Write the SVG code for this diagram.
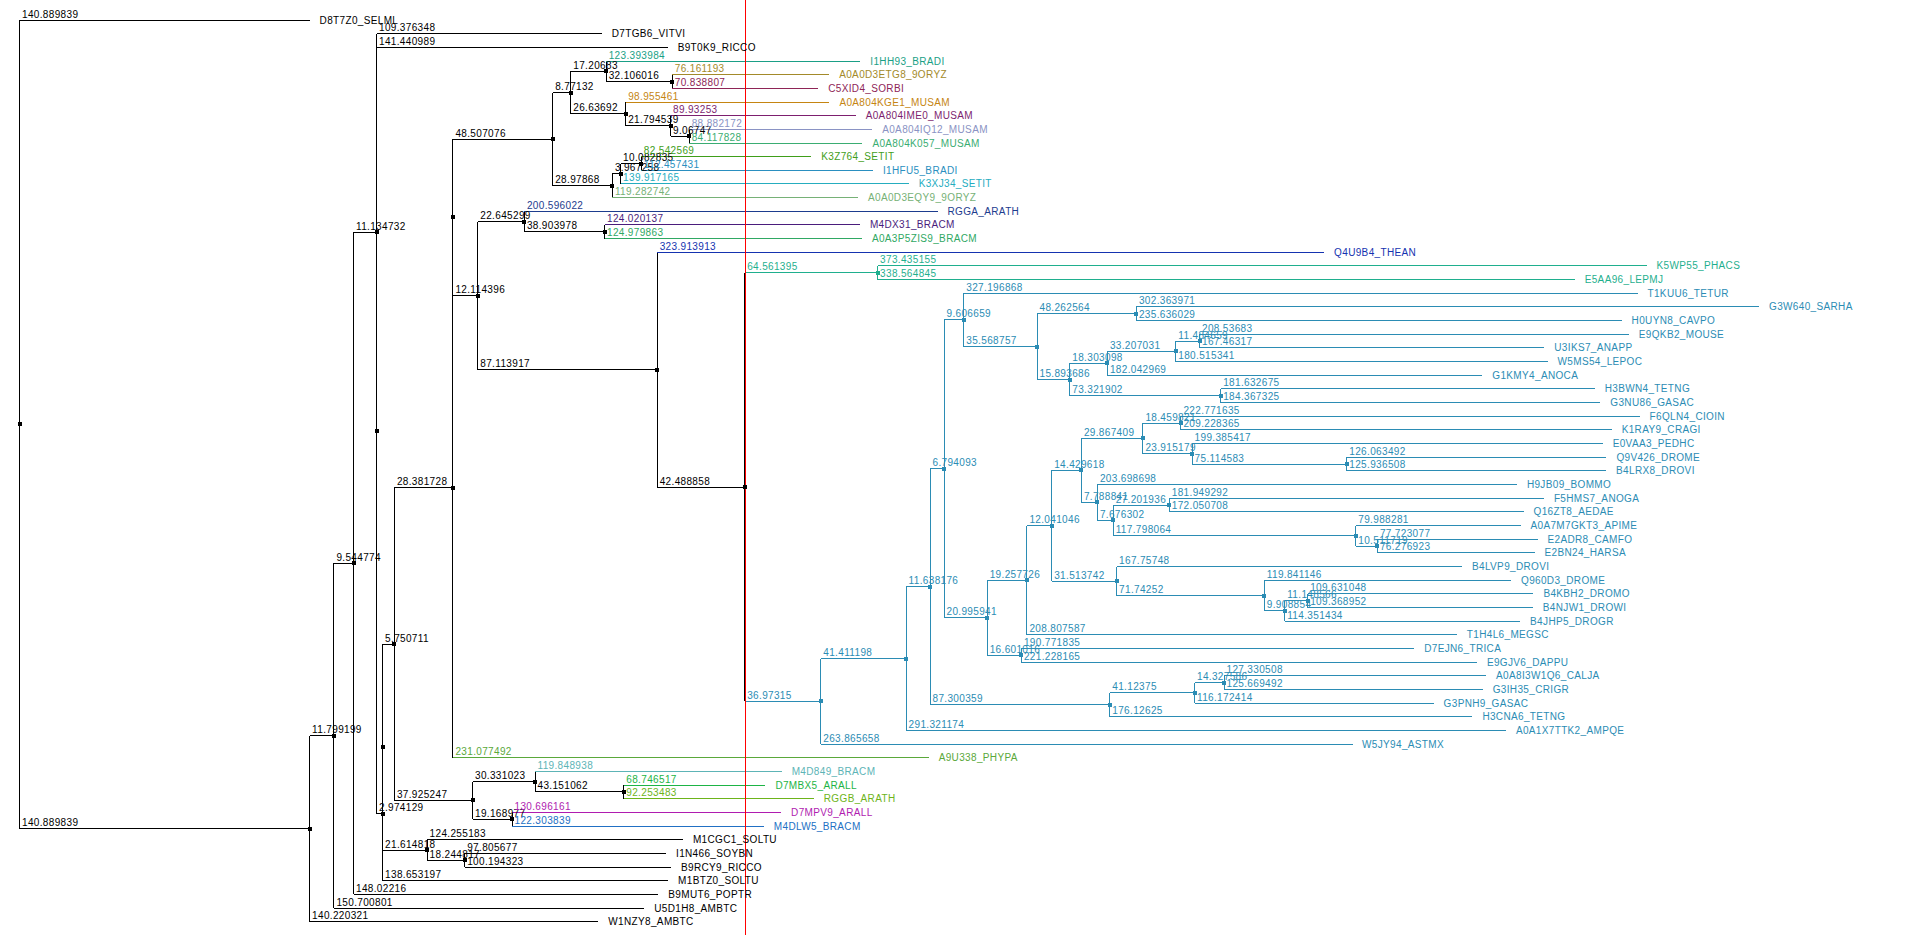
<svg xmlns="http://www.w3.org/2000/svg" width="1916" height="935" viewBox="0 0 1916 935">
<style>
path{fill:none !important;stroke-width:1;shape-rendering:crispEdges}
text{font-family:"Liberation Sans",Arial,sans-serif;font-size:10px;letter-spacing:0.35px;stroke:none !important}
rect{stroke:none !important;shape-rendering:crispEdges}
.k{stroke:#000;fill:#000}
.bradi{stroke:#1a9f86;fill:#1a9f86}
.etg8{stroke:#a38a2a;fill:#a38a2a}
.sorbi{stroke:#8e2456;fill:#8e2456}
.kge1{stroke:#c58512;fill:#c58512}
.ime0{stroke:#7d1f6f;fill:#7d1f6f}
.iq12{stroke:#8a93c4;fill:#8a93c4}
.k057{stroke:#3aad72;fill:#3aad72}
.k3z{stroke:#3f9e1a;fill:#3f9e1a}
.hfu5{stroke:#2a8fc0;fill:#2a8fc0}
.xj34{stroke:#25adbf;fill:#25adbf}
.eqy9{stroke:#76b176;fill:#76b176}
.rgga{stroke:#1d3c8e;fill:#1d3c8e}
.dx31{stroke:#4a1d7c;fill:#4a1d7c}
.zis9{stroke:#2fa863;fill:#2fa863}
.thean{stroke:#1533b0;fill:#1533b0}
.fung{stroke:#1faf8e;fill:#1faf8e}
.anim{stroke:#2b8cb4;fill:#2b8cb4}
.phypa{stroke:#5aa83a;fill:#5aa83a}
.d849{stroke:#5db4b6;fill:#5db4b6}
.mbx5{stroke:#1db445;fill:#1db445}
.rggb{stroke:#6db41a;fill:#6db41a}
.mpv9{stroke:#b01cb0;fill:#b01cb0}
.dlw5{stroke:#2170c4;fill:#2170c4}
</style>
<rect x="0" y="0" width="1916" height="935" fill="#fff"/>
<g id="connectors">
<path class="k" d="M19.5 20V828.7"/>
<path class="k" d="M19.5 20H309.6"/>
<path class="k" d="M19.5 828.7H309.6M309.6 735.6V921.7"/>
<path class="k" d="M309.6 921.7H598.3"/>
<path class="k" d="M309.6 735.6H333.9M333.9 563.2V908"/>
<path class="k" d="M333.9 908H644.2"/>
<path class="k" d="M333.9 563.2H353.5M353.5 232.1V894.4"/>
<path class="k" d="M353.5 894.4H658.3"/>
<path class="k" d="M353.5 232.1H376.5M376.5 33.7V430.6"/>
<path class="k" d="M376.5 33.7H601.7"/>
<path class="k" d="M376.5 47.3V813.8"/>
<path class="k" d="M376.5 47.3H667.7"/>
<path class="k" d="M376.5 813.8H382.6M382.6 747V880.7"/>
<path class="k" d="M382.6 880.7H668.1"/>
<path class="k" d="M382.6 644V850"/>
<path class="k" d="M382.6 644H394.4M394.4 487.6V800.4"/>
<path class="k" d="M382.6 850H427.1M427.1 839.7V860.2"/>
<path class="k" d="M427.1 839.7H682.9"/>
<path class="k" d="M427.1 860.2H464.7M464.7 853.4V867"/>
<path class="k" d="M464.7 853.4H666"/>
<path class="k" d="M464.7 867H671"/>
<path class="k" d="M394.4 800.4H472.5M472.5 781.7V819.2"/>
<path class="k" d="M472.5 781.7H535M535 771.4V791.9"/>
<path class="d849" d="M535 771.4H781.7"/>
<path class="k" d="M535 791.9H623.8M623.8 785.1V798.7"/>
<path class="mbx5" d="M623.8 785.1H765.4"/>
<path class="rggb" d="M623.8 798.7H813.8"/>
<path class="k" d="M472.5 819.2H512M512 812.4V826.1"/>
<path class="mpv9" d="M512 812.4H781.1"/>
<path class="dlw5" d="M512 826.1H763.8"/>
<path class="k" d="M394.4 487.6H452.9M452.9 217.4V757.7"/>
<path class="phypa" d="M452.9 757.7H928.7"/>
<path class="k" d="M452.9 139.1V295.6"/>
<path class="k" d="M452.9 139.1H552.7M552.7 92.6V185.7"/>
<path class="k" d="M552.7 92.6H570.8M570.8 71.2V113.9"/>
<path class="k" d="M570.8 71.2H606.2M606.2 61V81.5"/>
<path class="bradi" d="M606.2 61H860.3"/>
<path class="k" d="M606.2 81.5H672.3M672.3 74.7V88.3"/>
<path class="etg8" d="M672.3 74.7H829.2"/>
<path class="sorbi" d="M672.3 88.3H818.2"/>
<path class="k" d="M570.8 113.9H625.7M625.7 102V125.9"/>
<path class="kge1" d="M625.7 102H829.4"/>
<path class="k" d="M625.7 125.9H670.5M670.5 115.6V136.1"/>
<path class="ime0" d="M670.5 115.6H855.7"/>
<path class="k" d="M670.5 136.1H689.2M689.2 129.3V143"/>
<path class="iq12" d="M689.2 129.3H872.2"/>
<path class="k057" d="M689.2 143H862.4"/>
<path class="k" d="M552.7 185.7H612.4M612.4 173.7V197.6"/>
<path class="k" d="M612.4 173.7H620.6M620.6 163.5V183.9"/>
<path class="k" d="M620.6 163.5H641.3M641.3 156.6V170.3"/>
<path class="k3z" d="M641.3 156.6H811.3"/>
<path class="hfu5" d="M641.3 170.3H872.9"/>
<path class="xj34" d="M620.6 183.9H908.7"/>
<path class="eqy9" d="M612.4 197.6H858"/>
<path class="k" d="M452.9 295.6H477.8M477.8 221.5V369.7"/>
<path class="k" d="M477.8 221.5H524.4M524.4 211.3V231.8"/>
<path class="rgga" d="M524.4 211.3H937.5"/>
<path class="k" d="M524.4 231.8H604.5M604.5 224.9V238.6"/>
<path class="dx31" d="M604.5 224.9H859.9"/>
<path class="zis9" d="M604.5 238.6H861.9"/>
<path class="k" d="M477.8 369.7H657.2M657.2 252.3V487.1"/>
<path class="thean" d="M657.2 252.3H1324.1"/>
<path class="k" d="M657.2 487.1H744.7M744.7 272.8V701.4"/>
<path class="fung" d="M744.7 272.8H877.6M877.6 265.9V279.6"/>
<path class="fung" d="M877.6 265.9H1646.5"/>
<path class="fung" d="M877.6 279.6H1574.7"/>
<path class="anim" d="M744.7 701.4H820.8M820.8 658.6V744.1"/>
<path class="anim" d="M820.8 744.1H1352.5"/>
<path class="anim" d="M820.8 658.6H906.1M906.1 586.8V730.4"/>
<path class="anim" d="M906.1 730.4H1505.9"/>
<path class="anim" d="M906.1 586.8H930M930 468.9V704.8"/>
<path class="anim" d="M930 468.9H944M944 319.9V617.8"/>
<path class="anim" d="M944 319.9H963.8M963.8 293.2V346.6"/>
<path class="anim" d="M963.8 293.2H1637.5"/>
<path class="anim" d="M963.8 346.6H1037M1037 313.7V379.5"/>
<path class="anim" d="M1037 313.7H1136.4M1136.4 306.9V320.6"/>
<path class="anim" d="M1136.4 306.9H1759"/>
<path class="anim" d="M1136.4 320.6H1621.6"/>
<path class="anim" d="M1037 379.5H1069.8M1069.8 363.3V395.7"/>
<path class="anim" d="M1069.8 363.3H1107.4M1107.4 351.3V375.2"/>
<path class="anim" d="M1107.4 351.3H1175.8M1175.8 341.1V361.6"/>
<path class="anim" d="M1175.8 341.1H1199.5M1199.5 334.2V347.9"/>
<path class="anim" d="M1199.5 334.2H1628.8"/>
<path class="anim" d="M1199.5 347.9H1544.3"/>
<path class="anim" d="M1175.8 361.6H1547.5"/>
<path class="anim" d="M1107.4 375.2H1482.3"/>
<path class="anim" d="M1069.8 395.7H1220.7M1220.7 388.9V402.5"/>
<path class="anim" d="M1220.7 388.9H1594.7"/>
<path class="anim" d="M1220.7 402.5H1600.3"/>
<path class="anim" d="M944 617.8H987.2M987.2 580.3V655.3"/>
<path class="anim" d="M987.2 580.3H1026.9M1026.9 525.7V634.8"/>
<path class="anim" d="M1026.9 525.7H1051.7M1051.7 470.4V581"/>
<path class="anim" d="M1051.7 470.4H1081.4M1081.4 438.4V502.4"/>
<path class="anim" d="M1081.4 438.4H1142.9M1142.9 423V453.8"/>
<path class="anim" d="M1142.9 423H1180.9M1180.9 416.2V429.9"/>
<path class="anim" d="M1180.9 416.2H1639.6"/>
<path class="anim" d="M1180.9 429.9H1611.7"/>
<path class="anim" d="M1142.9 453.8H1192.1M1192.1 443.5V464"/>
<path class="anim" d="M1192.1 443.5H1602.7"/>
<path class="anim" d="M1192.1 464H1346.8M1346.8 457.2V470.8"/>
<path class="anim" d="M1346.8 457.2H1606.4"/>
<path class="anim" d="M1346.8 470.8H1606.1"/>
<path class="anim" d="M1081.4 502.4H1097.4M1097.4 484.5V520.4"/>
<path class="anim" d="M1097.4 484.5H1516.9"/>
<path class="anim" d="M1097.4 520.4H1113.2M1113.2 505V535.7"/>
<path class="anim" d="M1113.2 505H1169.3M1169.3 498.2V511.8"/>
<path class="anim" d="M1169.3 498.2H1543.9"/>
<path class="anim" d="M1169.3 511.8H1523.5"/>
<path class="anim" d="M1113.2 535.7H1355.8M1355.8 525.5V546"/>
<path class="anim" d="M1355.8 525.5H1520.5"/>
<path class="anim" d="M1355.8 546H1377.4M1377.4 539.2V552.8"/>
<path class="anim" d="M1377.4 539.2H1537.5"/>
<path class="anim" d="M1377.4 552.8H1534.5"/>
<path class="anim" d="M1051.7 581H1116.6M1116.6 566.5V595.5"/>
<path class="anim" d="M1116.6 566.5H1462"/>
<path class="anim" d="M1116.6 595.5H1264.3M1264.3 580.1V610.9"/>
<path class="anim" d="M1264.3 580.1H1511"/>
<path class="anim" d="M1264.3 610.9H1284.7M1284.7 600.6V621.1"/>
<path class="anim" d="M1284.7 600.6H1307.7M1307.7 593.8V607.5"/>
<path class="anim" d="M1307.7 593.8H1533.4"/>
<path class="anim" d="M1307.7 607.5H1532.8"/>
<path class="anim" d="M1284.7 621.1H1520.1"/>
<path class="anim" d="M1026.9 634.8H1456.8"/>
<path class="anim" d="M987.2 655.3H1021.4M1021.4 648.5V662.1"/>
<path class="anim" d="M1021.4 648.5H1414.2"/>
<path class="anim" d="M1021.4 662.1H1476.9"/>
<path class="anim" d="M930 704.8H1109.8M1109.8 692.9V716.8"/>
<path class="anim" d="M1109.8 692.9H1194.5M1194.5 682.6V703.1"/>
<path class="anim" d="M1194.5 682.6H1224M1224 675.8V689.4"/>
<path class="anim" d="M1224 675.8H1486.1"/>
<path class="anim" d="M1224 689.4H1482.7"/>
<path class="anim" d="M1194.5 703.1H1433.6"/>
<path class="anim" d="M1109.8 716.8H1472.4"/>
</g>
<line id="marker-line" x1="745.5" y1="0" x2="745.5" y2="935" stroke="#ff0000" stroke-width="1" shape-rendering="crispEdges"/>
<g id="root"><rect class="k" x="17.5" y="422.3" width="4" height="4"/></g>
<g id="D8T7Z0_SELML"><text class="k" x="22" y="17.5">140.889839</text><text class="k" x="319.6" y="23.5">D8T7Z0_SELML</text></g>
<g id="N1"><rect class="k" x="307.6" y="826.7" width="4" height="4"/><text class="k" x="22" y="826.2">140.889839</text></g>
<g id="W1NZY8_AMBTC"><text class="k" x="312.1" y="919.2">140.220321</text><text class="k" x="608.3" y="925.2">W1NZY8_AMBTC</text></g>
<g id="N2"><rect class="k" x="331.9" y="733.6" width="4" height="4"/><text class="k" x="312.1" y="733.1">11.799199</text></g>
<g id="U5D1H8_AMBTC"><text class="k" x="336.4" y="905.5">150.700801</text><text class="k" x="654.2" y="911.5">U5D1H8_AMBTC</text></g>
<g id="N3"><rect class="k" x="351.5" y="561.2" width="4" height="4"/><text class="k" x="336.4" y="560.7">9.544774</text></g>
<g id="B9MUT6_POPTR"><text class="k" x="356" y="891.9">148.02216</text><text class="k" x="668.3" y="897.9">B9MUT6_POPTR</text></g>
<g id="N4"><rect class="k" x="374.5" y="230.1" width="4" height="4"/><text class="k" x="356" y="229.6">11.134732</text></g>
<g id="D7TGB6_VITVI"><text class="k" x="379" y="31.2">109.376348</text><text class="k" x="611.7" y="37.2">D7TGB6_VITVI</text></g>
<g id="M"><rect class="k" x="374.5" y="428.6" width="4" height="4"/></g>
<g id="B9T0K9_RICCO"><text class="k" x="379" y="44.8">141.440989</text><text class="k" x="677.7" y="50.8">B9T0K9_RICCO</text></g>
<g id="P"><rect class="k" x="380.6" y="811.8" width="4" height="4"/><text class="k" x="379" y="811.3">2.974129</text></g>
<g id="M1BTZ0_SOLTU"><text class="k" x="385.1" y="878.2">138.653197</text><text class="k" x="678.1" y="884.2">M1BTZ0_SOLTU</text></g>
<g id="Q"><rect class="k" x="380.6" y="745" width="4" height="4"/></g>
<g id="T"><rect class="k" x="392.4" y="642" width="4" height="4"/><text class="k" x="385.1" y="641.5">5.750711</text></g>
<g id="S"><rect class="k" x="425.1" y="848" width="4" height="4"/><text class="k" x="385.1" y="847.5">21.614818</text></g>
<g id="M1CGC1_SOLTU"><text class="k" x="429.6" y="837.2">124.255183</text><text class="k" x="692.9" y="843.2">M1CGC1_SOLTU</text></g>
<g id="AA"><rect class="k" x="462.7" y="858.2" width="4" height="4"/><text class="k" x="429.6" y="857.7">18.244817</text></g>
<g id="I1N466_SOYBN"><text class="k" x="467.2" y="850.9">97.805677</text><text class="k" x="676" y="856.9">I1N466_SOYBN</text></g>
<g id="B9RCY9_RICCO"><text class="k" x="467.2" y="864.5">100.194323</text><text class="k" x="681" y="870.5">B9RCY9_RICCO</text></g>
<g id="W"><rect class="k" x="470.5" y="798.4" width="4" height="4"/><text class="k" x="396.9" y="797.9">37.925247</text></g>
<g id="X"><rect class="k" x="533" y="779.7" width="4" height="4"/><text class="k" x="475" y="779.2">30.331023</text></g>
<g id="M4D849_BRACM"><text class="d849" x="537.5" y="768.9">119.848938</text><text class="d849" x="791.7" y="774.9">M4D849_BRACM</text></g>
<g id="Z"><rect class="k" x="621.8" y="789.9" width="4" height="4"/><text class="k" x="537.5" y="789.4">43.151062</text></g>
<g id="D7MBX5_ARALL"><text class="mbx5" x="626.3" y="782.6">68.746517</text><text class="mbx5" x="775.4" y="788.6">D7MBX5_ARALL</text></g>
<g id="RGGB_ARATH"><text class="rggb" x="626.3" y="796.2">92.253483</text><text class="rggb" x="823.8" y="802.2">RGGB_ARATH</text></g>
<g id="Y"><rect class="k" x="510" y="817.2" width="4" height="4"/><text class="k" x="475" y="816.7">19.168977</text></g>
<g id="D7MPV9_ARALL"><text class="mpv9" x="514.5" y="809.9">130.696161</text><text class="mpv9" x="791.1" y="815.9">D7MPV9_ARALL</text></g>
<g id="M4DLW5_BRACM"><text class="dlw5" x="514.5" y="823.6">122.303839</text><text class="dlw5" x="773.8" y="829.6">M4DLW5_BRACM</text></g>
<g id="V"><rect class="k" x="450.9" y="485.6" width="4" height="4"/><text class="k" x="396.9" y="485.1">28.381728</text></g>
<g id="A9U338_PHYPA"><text class="phypa" x="455.4" y="755.2">231.077492</text><text class="phypa" x="938.7" y="761.2">A9U338_PHYPA</text></g>
<g id="V1"><rect class="k" x="450.9" y="215.4" width="4" height="4"/></g>
<g id="B1"><rect class="k" x="550.7" y="137.1" width="4" height="4"/><text class="k" x="455.4" y="136.6">48.507076</text></g>
<g id="C1"><rect class="k" x="568.8" y="90.6" width="4" height="4"/><text class="k" x="555.2" y="90.1">8.77132</text></g>
<g id="D1"><rect class="k" x="604.2" y="69.2" width="4" height="4"/><text class="k" x="573.3" y="68.7">17.20683</text></g>
<g id="I1HH93_BRADI"><text class="bradi" x="608.7" y="58.5">123.393984</text><text class="bradi" x="870.3" y="64.5">I1HH93_BRADI</text></g>
<g id="E1"><rect class="k" x="670.3" y="79.5" width="4" height="4"/><text class="k" x="608.7" y="79">32.106016</text></g>
<g id="A0A0D3ETG8_9ORYZ"><text class="etg8" x="674.8" y="72.2">76.161193</text><text class="etg8" x="839.2" y="78.2">A0A0D3ETG8_9ORYZ</text></g>
<g id="C5XID4_SORBI"><text class="sorbi" x="674.8" y="85.8">70.838807</text><text class="sorbi" x="828.2" y="91.8">C5XID4_SORBI</text></g>
<g id="F1"><rect class="k" x="623.7" y="111.9" width="4" height="4"/><text class="k" x="573.3" y="111.4">26.63692</text></g>
<g id="A0A804KGE1_MUSAM"><text class="kge1" x="628.2" y="99.5">98.955461</text><text class="kge1" x="839.4" y="105.5">A0A804KGE1_MUSAM</text></g>
<g id="G1"><rect class="k" x="668.5" y="123.9" width="4" height="4"/><text class="k" x="628.2" y="123.4">21.794539</text></g>
<g id="A0A804IME0_MUSAM"><text class="ime0" x="673" y="113.1">89.93253</text><text class="ime0" x="865.7" y="119.1">A0A804IME0_MUSAM</text></g>
<g id="H1"><rect class="k" x="687.2" y="134.1" width="4" height="4"/><text class="k" x="673" y="133.6">9.06747</text></g>
<g id="A0A804IQ12_MUSAM"><text class="iq12" x="691.7" y="126.8">88.882172</text><text class="iq12" x="882.2" y="132.8">A0A804IQ12_MUSAM</text></g>
<g id="A0A804K057_MUSAM"><text class="k057" x="691.7" y="140.5">84.117828</text><text class="k057" x="872.4" y="146.5">A0A804K057_MUSAM</text></g>
<g id="I1"><rect class="k" x="610.4" y="183.7" width="4" height="4"/><text class="k" x="555.2" y="183.2">28.97868</text></g>
<g id="J1"><rect class="k" x="618.6" y="171.7" width="4" height="4"/><text class="k" x="614.9" y="171.2">3.967258</text></g>
<g id="K1"><rect class="k" x="639.3" y="161.5" width="4" height="4"/><text class="k" x="623.1" y="161">10.082835</text></g>
<g id="K3Z764_SETIT"><text class="k3z" x="643.8" y="154.1">82.542569</text><text class="k3z" x="821.3" y="160.1">K3Z764_SETIT</text></g>
<g id="I1HFU5_BRADI"><text class="hfu5" x="643.8" y="167.8">112.457431</text><text class="hfu5" x="882.9" y="173.8">I1HFU5_BRADI</text></g>
<g id="K3XJ34_SETIT"><text class="xj34" x="623.1" y="181.4">139.917165</text><text class="xj34" x="918.7" y="187.4">K3XJ34_SETIT</text></g>
<g id="A0A0D3EQY9_9ORYZ"><text class="eqy9" x="614.9" y="195.1">119.282742</text><text class="eqy9" x="868" y="201.1">A0A0D3EQY9_9ORYZ</text></g>
<g id="L1"><rect class="k" x="475.8" y="293.6" width="4" height="4"/><text class="k" x="455.4" y="293.1">12.114396</text></g>
<g id="M2"><rect class="k" x="522.4" y="219.5" width="4" height="4"/><text class="k" x="480.3" y="219">22.645299</text></g>
<g id="RGGA_ARATH"><text class="rgga" x="526.9" y="208.8">200.596022</text><text class="rgga" x="947.5" y="214.8">RGGA_ARATH</text></g>
<g id="N2p"><rect class="k" x="602.5" y="229.8" width="4" height="4"/><text class="k" x="526.9" y="229.3">38.903978</text></g>
<g id="M4DX31_BRACM"><text class="dx31" x="607" y="222.4">124.020137</text><text class="dx31" x="869.9" y="228.4">M4DX31_BRACM</text></g>
<g id="A0A3P5ZIS9_BRACM"><text class="zis9" x="607" y="236.1">124.979863</text><text class="zis9" x="871.9" y="242.1">A0A3P5ZIS9_BRACM</text></g>
<g id="O2"><rect class="k" x="655.2" y="367.7" width="4" height="4"/><text class="k" x="480.3" y="367.2">87.113917</text></g>
<g id="Q4U9B4_THEAN"><text class="thean" x="659.7" y="249.8">323.913913</text><text class="thean" x="1334.1" y="255.8">Q4U9B4_THEAN</text></g>
<g id="P2"><rect class="k" x="742.7" y="485.1" width="4" height="4"/><text class="k" x="659.7" y="484.6">42.488858</text></g>
<g id="Q2"><rect class="fung" x="875.6" y="270.8" width="4" height="4"/><text class="fung" x="747.2" y="270.3">64.561395</text></g>
<g id="K5WP55_PHACS"><text class="fung" x="880.1" y="263.4">373.435155</text><text class="fung" x="1656.5" y="269.4">K5WP55_PHACS</text></g>
<g id="E5AA96_LEPMJ"><text class="fung" x="880.1" y="277.1">338.564845</text><text class="fung" x="1584.7" y="283.1">E5AA96_LEPMJ</text></g>
<g id="R2"><rect class="anim" x="818.8" y="699.4" width="4" height="4"/><text class="anim" x="747.2" y="698.9">36.97315</text></g>
<g id="W5JY94_ASTMX"><text class="anim" x="823.3" y="741.6">263.865658</text><text class="anim" x="1362" y="747.6">W5JY94_ASTMX</text></g>
<g id="S2"><rect class="anim" x="904.1" y="656.6" width="4" height="4"/><text class="anim" x="823.3" y="656.1">41.411198</text></g>
<g id="A0A1X7TTK2_AMPQE"><text class="anim" x="908.6" y="727.9">291.321174</text><text class="anim" x="1515.9" y="733.9">A0A1X7TTK2_AMPQE</text></g>
<g id="T2"><rect class="anim" x="928" y="584.8" width="4" height="4"/><text class="anim" x="908.6" y="584.3">11.638176</text></g>
<g id="U2"><rect class="anim" x="942" y="466.9" width="4" height="4"/><text class="anim" x="932.5" y="466.4">6.794093</text></g>
<g id="Y2"><rect class="anim" x="961.8" y="317.9" width="4" height="4"/><text class="anim" x="946.5" y="317.4">9.606659</text></g>
<g id="T1KUU6_TETUR"><text class="anim" x="966.3" y="290.7">327.196868</text><text class="anim" x="1647.5" y="296.7">T1KUU6_TETUR</text></g>
<g id="AB"><rect class="anim" x="1035" y="344.6" width="4" height="4"/><text class="anim" x="966.3" y="344.1">35.568757</text></g>
<g id="AC"><rect class="anim" x="1134.4" y="311.7" width="4" height="4"/><text class="anim" x="1039.5" y="311.2">48.262564</text></g>
<g id="G3W640_SARHA"><text class="anim" x="1138.9" y="304.4">302.363971</text><text class="anim" x="1769" y="310.4">G3W640_SARHA</text></g>
<g id="H0UYN8_CAVPO"><text class="anim" x="1138.9" y="318.1">235.636029</text><text class="anim" x="1631.6" y="324.1">H0UYN8_CAVPO</text></g>
<g id="AD"><rect class="anim" x="1067.8" y="377.5" width="4" height="4"/><text class="anim" x="1039.5" y="377">15.893686</text></g>
<g id="AE"><rect class="anim" x="1105.4" y="361.3" width="4" height="4"/><text class="anim" x="1072.3" y="360.8">18.303098</text></g>
<g id="AG"><rect class="anim" x="1173.8" y="349.3" width="4" height="4"/><text class="anim" x="1109.9" y="348.8">33.207031</text></g>
<g id="AH"><rect class="anim" x="1197.5" y="339.1" width="4" height="4"/><text class="anim" x="1178.3" y="338.6">11.484659</text></g>
<g id="E9QKB2_MOUSE"><text class="anim" x="1202" y="331.7">208.53683</text><text class="anim" x="1638.8" y="337.7">E9QKB2_MOUSE</text></g>
<g id="U3IKS7_ANAPP"><text class="anim" x="1202" y="345.4">167.46317</text><text class="anim" x="1554.3" y="351.4">U3IKS7_ANAPP</text></g>
<g id="W5MS54_LEPOC"><text class="anim" x="1178.3" y="359.1">180.515341</text><text class="anim" x="1557.5" y="365.1">W5MS54_LEPOC</text></g>
<g id="G1KMY4_ANOCA"><text class="anim" x="1109.9" y="372.7">182.042969</text><text class="anim" x="1492.3" y="378.7">G1KMY4_ANOCA</text></g>
<g id="AF"><rect class="anim" x="1218.7" y="393.7" width="4" height="4"/><text class="anim" x="1072.3" y="393.2">73.321902</text></g>
<g id="H3BWN4_TETNG"><text class="anim" x="1223.2" y="386.4">181.632675</text><text class="anim" x="1604.7" y="392.4">H3BWN4_TETNG</text></g>
<g id="G3NU86_GASAC"><text class="anim" x="1223.2" y="400">184.367325</text><text class="anim" x="1610.3" y="406">G3NU86_GASAC</text></g>
<g id="Z2"><rect class="anim" x="985.2" y="615.8" width="4" height="4"/><text class="anim" x="946.5" y="615.3">20.995941</text></g>
<g id="AI"><rect class="anim" x="1024.9" y="578.3" width="4" height="4"/><text class="anim" x="989.7" y="577.8">19.257726</text></g>
<g id="AK"><rect class="anim" x="1049.7" y="523.7" width="4" height="4"/><text class="anim" x="1029.4" y="523.2">12.041046</text></g>
<g id="AL"><rect class="anim" x="1079.4" y="468.4" width="4" height="4"/><text class="anim" x="1054.2" y="467.9">14.429618</text></g>
<g id="AN"><rect class="anim" x="1140.9" y="436.4" width="4" height="4"/><text class="anim" x="1083.9" y="435.9">29.867409</text></g>
<g id="AP"><rect class="anim" x="1178.9" y="421" width="4" height="4"/><text class="anim" x="1145.4" y="420.5">18.459821</text></g>
<g id="F6QLN4_CIOIN"><text class="anim" x="1183.4" y="413.7">222.771635</text><text class="anim" x="1649.6" y="419.7">F6QLN4_CIOIN</text></g>
<g id="K1RAY9_CRAGI"><text class="anim" x="1183.4" y="427.4">209.228365</text><text class="anim" x="1621.7" y="433.4">K1RAY9_CRAGI</text></g>
<g id="AQ"><rect class="anim" x="1190.1" y="451.8" width="4" height="4"/><text class="anim" x="1145.4" y="451.3">23.915179</text></g>
<g id="E0VAA3_PEDHC"><text class="anim" x="1194.6" y="441">199.385417</text><text class="anim" x="1612.7" y="447">E0VAA3_PEDHC</text></g>
<g id="AR"><rect class="anim" x="1344.8" y="462" width="4" height="4"/><text class="anim" x="1194.6" y="461.5">75.114583</text></g>
<g id="Q9V426_DROME"><text class="anim" x="1349.3" y="454.7">126.063492</text><text class="anim" x="1616.4" y="460.7">Q9V426_DROME</text></g>
<g id="B4LRX8_DROVI"><text class="anim" x="1349.3" y="468.3">125.936508</text><text class="anim" x="1616.1" y="474.3">B4LRX8_DROVI</text></g>
<g id="AO"><rect class="anim" x="1095.4" y="500.4" width="4" height="4"/><text class="anim" x="1083.9" y="499.9">7.788841</text></g>
<g id="H9JB09_BOMMO"><text class="anim" x="1099.9" y="482">203.698698</text><text class="anim" x="1526.9" y="488">H9JB09_BOMMO</text></g>
<g id="AS"><rect class="anim" x="1111.2" y="518.4" width="4" height="4"/><text class="anim" x="1099.9" y="517.9">7.676302</text></g>
<g id="AT"><rect class="anim" x="1167.3" y="503" width="4" height="4"/><text class="anim" x="1115.7" y="502.5">27.201936</text></g>
<g id="F5HMS7_ANOGA"><text class="anim" x="1171.8" y="495.7">181.949292</text><text class="anim" x="1553.9" y="501.7">F5HMS7_ANOGA</text></g>
<g id="Q16ZT8_AEDAE"><text class="anim" x="1171.8" y="509.3">172.050708</text><text class="anim" x="1533.5" y="515.3">Q16ZT8_AEDAE</text></g>
<g id="AU"><rect class="anim" x="1353.8" y="533.7" width="4" height="4"/><text class="anim" x="1115.7" y="533.2">117.798064</text></g>
<g id="A0A7M7GKT3_APIME"><text class="anim" x="1358.3" y="523">79.988281</text><text class="anim" x="1530.5" y="529">A0A7M7GKT3_APIME</text></g>
<g id="AV"><rect class="anim" x="1375.4" y="544" width="4" height="4"/><text class="anim" x="1358.3" y="543.5">10.511719</text></g>
<g id="E2ADR8_CAMFO"><text class="anim" x="1379.9" y="536.7">77.723077</text><text class="anim" x="1547.5" y="542.7">E2ADR8_CAMFO</text></g>
<g id="E2BN24_HARSA"><text class="anim" x="1379.9" y="550.3">76.276923</text><text class="anim" x="1544.5" y="556.3">E2BN24_HARSA</text></g>
<g id="AM"><rect class="anim" x="1114.6" y="579" width="4" height="4"/><text class="anim" x="1054.2" y="578.5">31.513742</text></g>
<g id="B4LVP9_DROVI"><text class="anim" x="1119.1" y="564">167.75748</text><text class="anim" x="1472" y="570">B4LVP9_DROVI</text></g>
<g id="AW"><rect class="anim" x="1262.3" y="593.5" width="4" height="4"/><text class="anim" x="1119.1" y="593">71.74252</text></g>
<g id="Q960D3_DROME"><text class="anim" x="1266.8" y="577.6">119.841146</text><text class="anim" x="1521" y="583.6">Q960D3_DROME</text></g>
<g id="AX"><rect class="anim" x="1282.7" y="608.9" width="4" height="4"/><text class="anim" x="1266.8" y="608.4">9.908854</text></g>
<g id="AY"><rect class="anim" x="1305.7" y="598.6" width="4" height="4"/><text class="anim" x="1287.2" y="598.1">11.148566</text></g>
<g id="B4KBH2_DROMO"><text class="anim" x="1310.2" y="591.3">109.631048</text><text class="anim" x="1543.4" y="597.3">B4KBH2_DROMO</text></g>
<g id="B4NJW1_DROWI"><text class="anim" x="1310.2" y="605">109.368952</text><text class="anim" x="1542.8" y="611">B4NJW1_DROWI</text></g>
<g id="B4JHP5_DROGR"><text class="anim" x="1287.2" y="618.6">114.351434</text><text class="anim" x="1530.1" y="624.6">B4JHP5_DROGR</text></g>
<g id="T1H4L6_MEGSC"><text class="anim" x="1029.4" y="632.3">208.807587</text><text class="anim" x="1466.8" y="638.3">T1H4L6_MEGSC</text></g>
<g id="AJ"><rect class="anim" x="1019.4" y="653.3" width="4" height="4"/><text class="anim" x="989.7" y="652.8">16.601016</text></g>
<g id="D7EJN6_TRICA"><text class="anim" x="1023.9" y="646">190.771835</text><text class="anim" x="1424.2" y="652">D7EJN6_TRICA</text></g>
<g id="E9GJV6_DAPPU"><text class="anim" x="1023.9" y="659.6">221.228165</text><text class="anim" x="1486.9" y="665.6">E9GJV6_DAPPU</text></g>
<g id="V2"><rect class="anim" x="1107.8" y="702.8" width="4" height="4"/><text class="anim" x="932.5" y="702.3">87.300359</text></g>
<g id="W2"><rect class="anim" x="1192.5" y="690.9" width="4" height="4"/><text class="anim" x="1112.3" y="690.4">41.12375</text></g>
<g id="X2"><rect class="anim" x="1222" y="680.6" width="4" height="4"/><text class="anim" x="1197" y="680.1">14.327586</text></g>
<g id="A0A8I3W1Q6_CALJA"><text class="anim" x="1226.5" y="673.3">127.330508</text><text class="anim" x="1496.1" y="679.3">A0A8I3W1Q6_CALJA</text></g>
<g id="G3IH35_CRIGR"><text class="anim" x="1226.5" y="686.9">125.669492</text><text class="anim" x="1492.7" y="692.9">G3IH35_CRIGR</text></g>
<g id="G3PNH9_GASAC"><text class="anim" x="1197" y="700.6">116.172414</text><text class="anim" x="1443.6" y="706.6">G3PNH9_GASAC</text></g>
<g id="H3CNA6_TETNG"><text class="anim" x="1112.3" y="714.3">176.12625</text><text class="anim" x="1482.4" y="720.3">H3CNA6_TETNG</text></g>
</svg>
